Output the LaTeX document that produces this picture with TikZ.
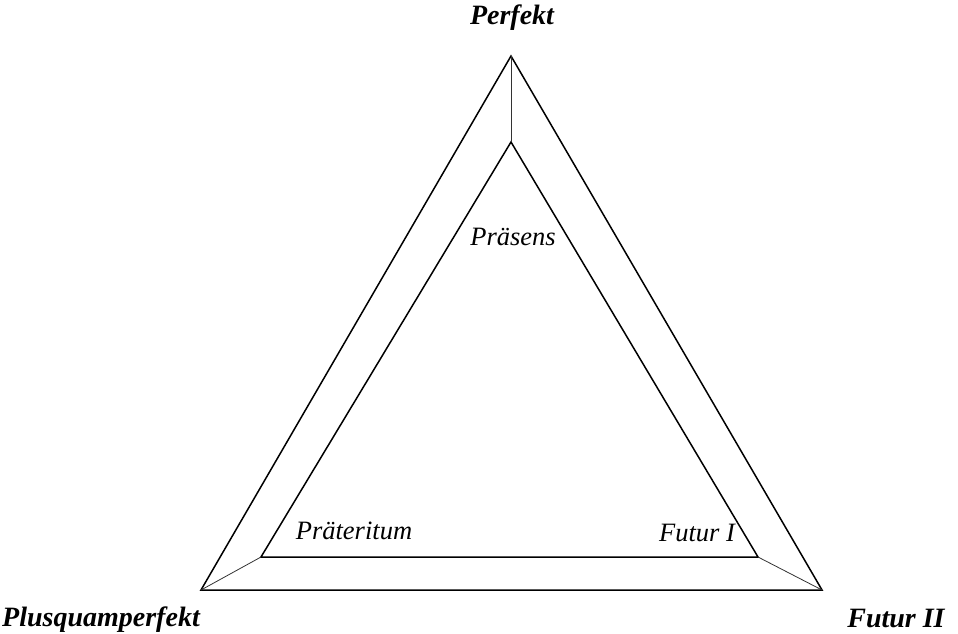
\documentclass[tikz,border=0pt]{standalone}
\usepackage{fontspec}
\setmainfont{Liberation Serif}
\usepackage{tikz}

\tikzset{
  tense/.style={font=\fontsize{26.5}{30}\selectfont\itshape, inner sep=0pt},
  outertense/.style={font=\fontsize{28}{32}\selectfont\bfseries\itshape, inner sep=0pt},
  edge/.style={draw=black, line width=1.5pt},
  spoke/.style={draw=black!80, line width=0.8pt}
}

\begin{document}
\begin{tikzpicture}[x=1pt, y=-1pt]
\useasboundingbox (0,0) rectangle (958,634);
% outer triangle
\coordinate (PF) at (511,56);
\coordinate (PQ) at (201,590);
\coordinate (F2) at (822,590);
% inner triangle
\coordinate (PR) at (511,142);
\coordinate (PT) at (261,557);
\coordinate (F1) at (758,557);

\draw[edge] (PF) -- (PQ) -- (F2) -- cycle;
\draw[edge] (PR) -- (PT) -- (F1) -- cycle;
\draw[spoke] (PF) -- (PR);
\draw[spoke] (PQ) -- (PT);
\draw[spoke] (F2) -- (F1);

\node[outertense] (perfekt) at (512,18) {Perfekt};
\node[outertense] (plusq) at (101,620) {Plusquamperfekt};
\node[outertense] (futur2) at (896,618) {Futur II};
\node[tense] (praesens) at (513,237) {Präsens};
\node[tense] (praet) at (354,531) {Präteritum};
\node[tense] (futur1) at (697,533) {Futur I};
\end{tikzpicture}
\end{document}
